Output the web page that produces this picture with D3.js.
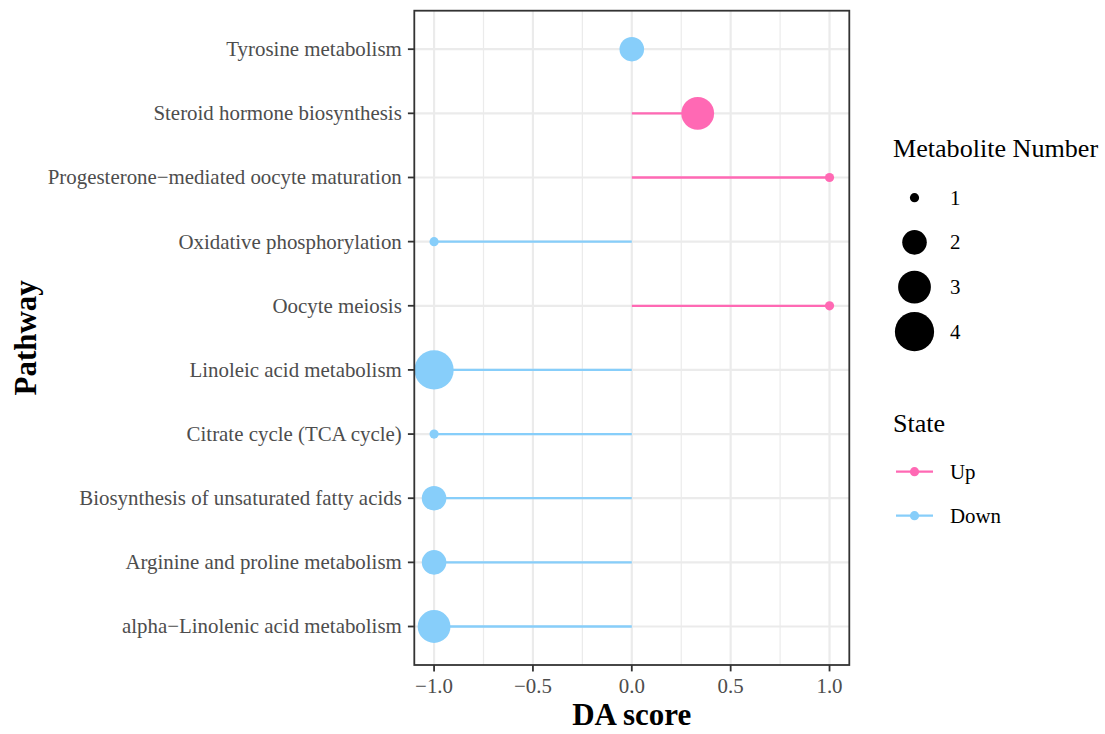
<!DOCTYPE html>
<html>
<head>
<meta charset="utf-8">
<script src="https://cdn.jsdelivr.net/npm/d3@7/dist/d3.min.js"></script>
<style>
  html, body { margin: 0; padding: 0; background: #fff; }
  svg { display: block; }
  text { font-family: "Liberation Serif", "Times New Roman", Times, serif; }
</style>
</head>
<body>
<svg id="chart" width="1105" height="734"></svg>
<script>
// ---- data ----
const pathways = [
  "Tyrosine metabolism",
  "Steroid hormone biosynthesis",
  "Progesterone\u2212mediated oocyte maturation",
  "Oxidative phosphorylation",
  "Oocyte meiosis",
  "Linoleic acid metabolism",
  "Citrate cycle (TCA cycle)",
  "Biosynthesis of unsaturated fatty acids",
  "Arginine and proline metabolism",
  "alpha\u2212Linolenic acid metabolism"
];
const daScores = [0, 0.3333, 1, -1, 1, -1, -1, -1, -1, -1];
const metaboliteCounts = [2, 3, 1, 1, 1, 4, 1, 2, 2, 3];
const states = ["Down", "Up", "Up", "Down", "Up", "Down", "Down", "Down", "Down", "Down"];
const xTicks = [-1, -0.5, 0, 0.5, 1];
const xMinorTicks = [-0.75, -0.25, 0.25, 0.75];
const sizeLegendValues = [1, 2, 3, 4];
const stateLevels = ["Up", "Down"];
const stateColors = ["#FF69B4", "#87CEFA"];

const rows = pathways.map((p, i) => ({
  pathway: p, score: daScores[i], count: metaboliteCounts[i], state: states[i]
}));

// ---- layout ----
const svg = d3.select("#chart");
const panel = { left: 414.3, right: 849.3, top: 10.7, bottom: 665 };

const x = d3.scaleLinear().domain([-1.1, 1.1]).range([panel.left, panel.right]);
const y = d3.scalePoint().domain(pathways).range([panel.top, panel.bottom]).padding(0.6);
const color = d3.scaleOrdinal().domain(stateLevels).range(stateColors);
const area = d3.scaleLinear().domain([1, 4]).range([1, 36]);
const radius = v => 3.0 * Math.sqrt(area(v)) + 1.6;

const fmt = v => d3.format(".1f")(v).replace("-", "\u2212");

// panel background
svg.append("rect")
  .attr("x", panel.left).attr("y", panel.top)
  .attr("width", panel.right - panel.left).attr("height", panel.bottom - panel.top)
  .attr("fill", "#fff");

// grid
const grid = svg.append("g");
grid.selectAll(".minor").data(xMinorTicks).join("line")
  .attr("x1", d => x(d)).attr("x2", d => x(d))
  .attr("y1", panel.top).attr("y2", panel.bottom)
  .attr("stroke", "#EBEBEB").attr("stroke-width", 1.2);
grid.selectAll(".majorx").data(xTicks).join("line")
  .attr("x1", d => x(d)).attr("x2", d => x(d))
  .attr("y1", panel.top).attr("y2", panel.bottom)
  .attr("stroke", "#EBEBEB").attr("stroke-width", 2.2);
grid.selectAll(".majory").data(pathways).join("line")
  .attr("x1", panel.left).attr("x2", panel.right)
  .attr("y1", d => y(d)).attr("y2", d => y(d))
  .attr("stroke", "#EBEBEB").attr("stroke-width", 2.2);

// segments
svg.append("g").selectAll("line").data(rows).join("line")
  .attr("x1", x(0)).attr("x2", d => x(d.score))
  .attr("y1", d => y(d.pathway)).attr("y2", d => y(d.pathway))
  .attr("stroke", d => color(d.state)).attr("stroke-width", 2.3);

// points
svg.append("g").selectAll("circle").data(rows).join("circle")
  .attr("cx", d => x(d.score)).attr("cy", d => y(d.pathway))
  .attr("r", d => radius(d.count))
  .attr("fill", d => color(d.state));

// panel border
svg.append("rect")
  .attr("x", panel.left).attr("y", panel.top)
  .attr("width", panel.right - panel.left).attr("height", panel.bottom - panel.top)
  .attr("fill", "none").attr("stroke", "#333333").attr("stroke-width", 1.8);

// x axis
const xAxis = svg.append("g");
xAxis.selectAll("line").data(xTicks).join("line")
  .attr("x1", d => x(d)).attr("x2", d => x(d))
  .attr("y1", panel.bottom).attr("y2", panel.bottom + 6.4)
  .attr("stroke", "#333333").attr("stroke-width", 1.8);
xAxis.selectAll("text").data(xTicks).join("text")
  .attr("x", d => x(d)).attr("y", 693)
  .attr("text-anchor", "middle")
  .attr("font-size", 20.9).attr("fill", "#4D4D4D")
  .text(d => fmt(d));

// y axis
const yAxis = svg.append("g");
yAxis.selectAll("line").data(pathways).join("line")
  .attr("x1", panel.left - 6.4).attr("x2", panel.left)
  .attr("y1", d => y(d)).attr("y2", d => y(d))
  .attr("stroke", "#333333").attr("stroke-width", 1.8);
yAxis.selectAll("text").data(pathways).join("text")
  .attr("x", panel.left - 12.5).attr("y", d => y(d))
  .attr("dy", "0.33em")
  .attr("text-anchor", "end")
  .attr("font-size", 20.9).attr("fill", "#4D4D4D")
  .text(d => d);

// axis titles
svg.append("text")
  .attr("x", (panel.left + panel.right) / 2).attr("y", 725)
  .attr("text-anchor", "middle")
  .attr("font-size", 31).attr("font-weight", "bold").attr("fill", "#000")
  .text("DA score");
svg.append("text")
  .attr("transform", `translate(36,${(panel.top + panel.bottom) / 2}) rotate(-90)`)
  .attr("text-anchor", "middle")
  .attr("font-size", 31).attr("font-weight", "bold").attr("fill", "#000")
  .text("Pathway");

// size legend
const legSize = svg.append("g");
legSize.append("text")
  .attr("x", 893).attr("y", 157)
  .attr("font-size", 26.1).attr("fill", "#000")
  .text("Metabolite Number");
const sizeKeyY = d3.scalePoint().domain(sizeLegendValues).range([197.7, 331.7]);
legSize.selectAll("circle").data(sizeLegendValues).join("circle")
  .attr("cx", 914.5).attr("cy", d => sizeKeyY(d))
  .attr("r", d => radius(d)).attr("fill", "#000");
legSize.selectAll(".lab").data(sizeLegendValues).join("text")
  .attr("x", 950).attr("y", d => sizeKeyY(d)).attr("dy", "0.33em")
  .attr("font-size", 20.9).attr("fill", "#000")
  .text(d => d);

// state legend
const legState = svg.append("g");
legState.append("text")
  .attr("x", 893).attr("y", 432)
  .attr("font-size", 26.1).attr("fill", "#000")
  .text("State");
const stateKeyY = d3.scalePoint().domain(stateLevels).range([471.7, 515.7]);
legState.selectAll("line").data(stateLevels).join("line")
  .attr("x1", 896).attr("x2", 933)
  .attr("y1", d => stateKeyY(d)).attr("y2", d => stateKeyY(d))
  .attr("stroke", d => color(d)).attr("stroke-width", 2.3);
legState.selectAll("circle").data(stateLevels).join("circle")
  .attr("cx", 914.5).attr("cy", d => stateKeyY(d))
  .attr("r", radius(1)).attr("fill", d => color(d));
legState.selectAll(".lab").data(stateLevels).join("text")
  .attr("x", 950).attr("y", d => stateKeyY(d)).attr("dy", "0.33em")
  .attr("font-size", 20.9).attr("fill", "#000")
  .text(d => d);
</script>
</body>
</html>
